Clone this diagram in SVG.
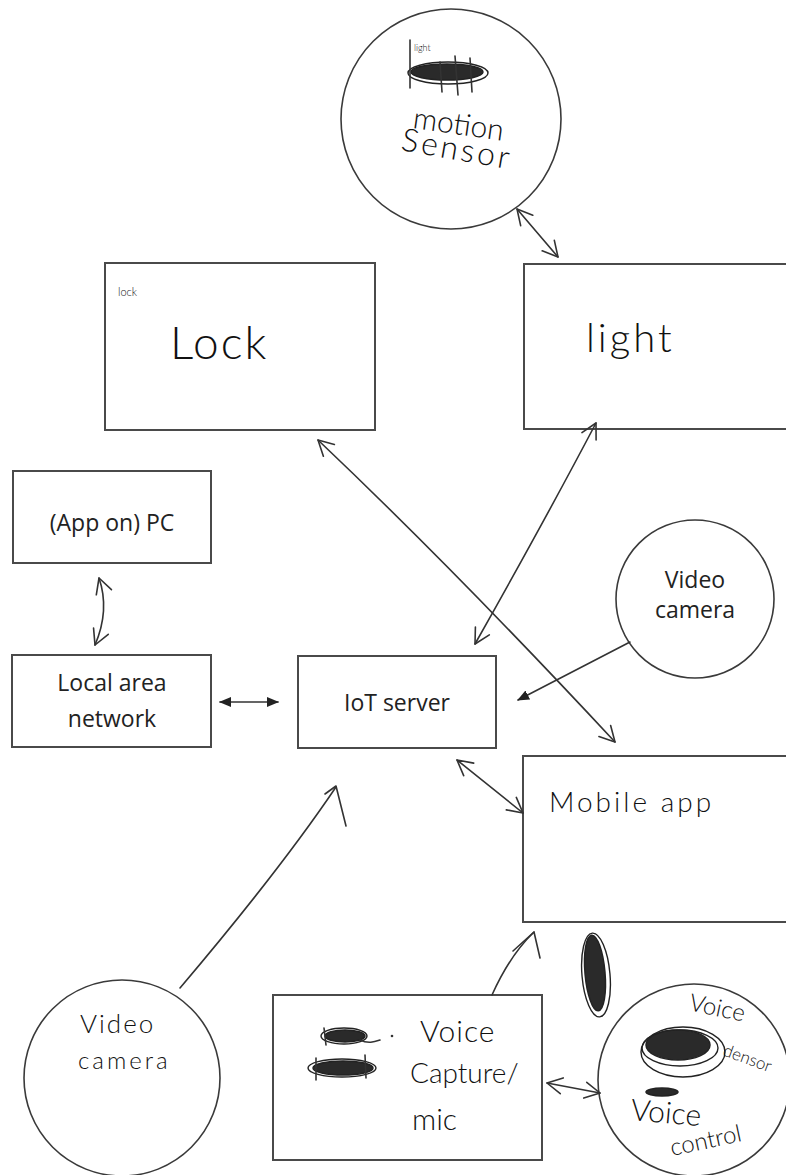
<svg xmlns="http://www.w3.org/2000/svg" width="786" height="1175" viewBox="0 0 786 1175">
<style>
.box{fill:#fff;stroke:#4a4a4a;stroke-width:2}
.circ{fill:#fff;stroke:#3a3a3a;stroke-width:1.6}
.print{font-family:"Open Sans","Noto Sans",sans-serif;font-size:23px;fill:#222;text-anchor:middle}
.hand{font-family:Lato,"DejaVu Sans",sans-serif;font-weight:300;fill:#111}
.ln{fill:none;stroke:#333;stroke-width:1.6;stroke-linecap:round}
.hv{fill:none;stroke:#333;stroke-width:1.6;stroke-linecap:round;stroke-linejoin:round}
.scr{fill:#2a2a2a;stroke:#222;stroke-width:1.5}
.loop{fill:none;stroke:#222;stroke-width:1.4}
</style>
<defs>
<marker id="open" viewBox="0 0 20 20" refX="18" refY="10" markerWidth="20" markerHeight="20" markerUnits="userSpaceOnUse" orient="auto-start-reverse">
<path d="M3 2 L18 10 L3 18" fill="none" stroke="#333" stroke-width="1.6" stroke-linecap="round" stroke-linejoin="round"/>
</marker>
<marker id="solid" viewBox="0 0 12 10" refX="11" refY="5" markerWidth="12" markerHeight="10" markerUnits="userSpaceOnUse" orient="auto-start-reverse">
<path d="M0 0 L12 5 L0 10 Z" fill="#222"/>
</marker>
</defs>
<rect width="786" height="1175" fill="#fff"/>

<g id="motion-sensor">
<circle class="circ" cx="451" cy="119" r="110"/>
<ellipse class="scr" cx="447" cy="72" rx="36" ry="8"/>
<ellipse class="loop" cx="448" cy="73" rx="40" ry="11"/>
<path class="hv" d="M410 40 L410 88 M455 56 L458 95 M470 58 L472 92 M440 62 L442 92" />
<text class="hand" font-size="9" x="414" y="51">light</text>
<text class="hand" font-size="30" x="412" y="128" transform="rotate(8 412 128)">motion</text>
<text class="hand" font-size="32" x="400" y="150" transform="rotate(10 400 150)" letter-spacing="3">Sensor</text>
</g>

<g id="lock">
<rect class="box" x="105" y="263" width="270" height="167"/>
<text class="hand" font-size="11" x="118" y="296">lock</text>
<text class="hand" font-size="46" x="170" y="359" letter-spacing="2">Lock</text>
</g>

<g id="light">
<rect class="box" x="524" y="264" width="270" height="165"/>
<text class="hand" font-size="40" x="586" y="352" letter-spacing="3">light</text>
</g>

<g id="app-pc">
<rect class="box" x="13" y="471" width="198" height="92"/>
<text class="print" x="112" y="531">(App on) PC</text>
</g>

<g id="lan">
<rect class="box" x="12" y="655" width="199" height="92"/>
<text class="print" x="112" y="691">Local area</text>
<text class="print" x="112" y="727">network</text>
</g>

<g id="iot-server">
<rect class="box" x="298" y="656" width="198" height="92"/>
<text class="print" x="397" y="711">IoT server</text>
</g>

<g id="video-camera-1">
<circle class="circ" cx="695" cy="599" r="79"/>
<text class="print" x="695" y="588">Video</text>
<text class="print" x="695" y="618">camera</text>
</g>

<g id="mobile-app">
<rect class="box" x="523" y="756" width="270" height="166"/>
<text class="hand" font-size="28" x="549" y="812" letter-spacing="3">Mobile  app</text>
</g>

<g id="video-camera-2">
<circle class="circ" cx="122" cy="1078" r="98"/>
<text class="hand" font-size="26" x="80" y="1033" letter-spacing="2">Video</text>
<text class="hand" font-size="24" x="78" y="1069" letter-spacing="3">camera</text>
</g>

<g id="voice-capture">
<rect class="box" x="273" y="995" width="269" height="165"/>
<ellipse class="scr" cx="345" cy="1036" rx="20" ry="6"/>
<ellipse class="loop" cx="344" cy="1036" rx="23" ry="8"/>
<path class="hv" d="M324 1028 L326 1045 M360 1040 C368 1044 374 1042 380 1040"/>
<circle cx="392" cy="1036" r="1.3" fill="#333"/>
<ellipse class="scr" cx="343" cy="1068" rx="30" ry="7"/>
<ellipse class="loop" cx="342" cy="1068" rx="34" ry="9"/>
<path class="hv" d="M316 1058 L316 1080 M365 1055 L366 1078"/>
<text class="hand" font-size="30" x="420" y="1042" letter-spacing="1">Voice</text>
<text class="hand" font-size="28" x="410" y="1083">Capture/</text>
<text class="hand" font-size="30" x="412" y="1130">mic</text>
</g>

<g id="voice-sensor">
<circle class="circ" cx="694" cy="1080" r="96"/>
<ellipse class="scr" cx="595" cy="973" rx="10" ry="38" transform="rotate(-5 595 973)"/>
<ellipse class="loop" cx="596" cy="975" rx="14" ry="42" transform="rotate(-5 596 975)"/>
<text class="hand" font-size="24" x="688" y="1010" transform="rotate(12 688 1010)">Voice</text>
<ellipse class="loop" cx="683" cy="1052" rx="42" ry="25" stroke-width="2"/>
<ellipse class="loop" cx="680" cy="1048" rx="38" ry="18"/>
<ellipse class="scr" cx="678" cy="1045" rx="32" ry="15"/>
<text class="hand" font-size="17" x="722" y="1055" transform="rotate(20 722 1055)">densor</text>
<ellipse class="scr" cx="662" cy="1092" rx="16" ry="4"/>
<text class="hand" font-size="30" x="630" y="1120" transform="rotate(5 630 1120)">Voice</text>
<text class="hand" font-size="24" x="672" y="1156" transform="rotate(-12 672 1156)">control</text>
</g>

<g id="connectors">
<path class="ln" d="M517 209 L558 257" marker-start="url(#open)" marker-end="url(#open)"/>
<path class="ln" d="M318 440 Q455 570 615 742" marker-start="url(#open)" marker-end="url(#open)"/>
<path class="ln" d="M596 423 Q545 520 475 644" marker-start="url(#open)" marker-end="url(#open)"/>
<path class="ln" d="M99 578 Q110 610 95 645" marker-start="url(#open)" marker-end="url(#open)"/>
<path class="ln" d="M220 702 L278 702" stroke-width="1.4" marker-start="url(#solid)" marker-end="url(#solid)"/>
<path class="ln" d="M630 642 L518 700" stroke-width="1.4" marker-end="url(#solid)"/>
<path class="ln" d="M457 760 L523 813" marker-start="url(#open)" marker-end="url(#open)"/>
<path class="ln" d="M180 988 Q280 870 336 787"/>
<path class="hv" d="M325 794 L336 786 L346 826"/>
<path class="ln" d="M492 995 Q510 955 534 932"/>
<path class="hv" d="M513 951 L534 932 L540 958"/>
<path class="ln" d="M547 1083 L600 1093" marker-start="url(#open)" marker-end="url(#open)"/>
</g>
</svg>
